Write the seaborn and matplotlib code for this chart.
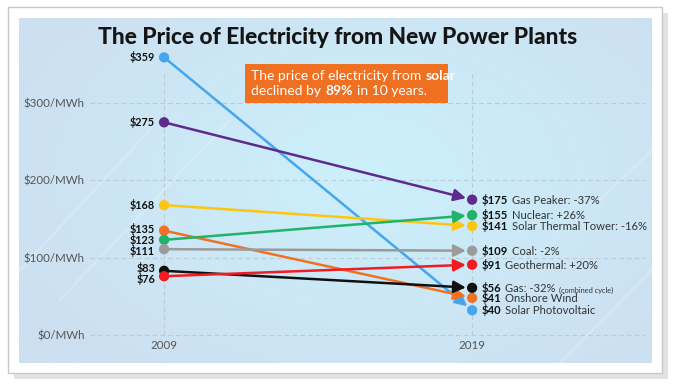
import matplotlib
matplotlib.use('Agg')
import matplotlib.pyplot as plt
import matplotlib.patches as mpatches
import numpy as np
import pandas as pd
import seaborn as sns

# data ($/MWh)
sources = ['Solar Photovoltaic', 'Gas Peaker', 'Solar Thermal Tower', 'Onshore Wind',
           'Nuclear', 'Coal', 'Gas', 'Geothermal']
price_2009 = [359, 275, 168, 135, 123, 111, 83, 76]
price_2019 = [40, 175, 141, 41, 155, 109, 56, 91]
right_names = ['Solar Photovoltaic', 'Gas Peaker: -37%', 'Solar Thermal Tower: -16%', 'Onshore Wind',
               'Nuclear: +26%', 'Coal: -2%', 'Gas: -32%', 'Geothermal: +20%']
right_notes = ['', '', '', '', '', '', '(combined cycle)', '']
years = [2009, 2019]
year_labels = ['2009', '2019']
yticks = [0, 100, 200, 300]
ytick_labels = ['$0/MWh', '$100/MWh', '$200/MWh', '$300/MWh']
title = 'The Price of Electricity from New Power Plants'

# styling
colors = ['#45a6ee', '#5e2a8e', '#fdc513', '#f07121', '#1fb469', '#9b9b9b', '#111111', '#f21b24']
end_nudge = [-8, 0, 0, 7, 0, 0, 5, 0]      # spread the crowded 2019 dots apart
start_label_nudge = [0, 0, 0, 2.5, 0, -2.5, 3.5, -3]

plt.rcParams['text.parse_math'] = False
plt.rcParams['font.family'] = ['Lato', 'DejaVu Sans']

W, H = 678, 387
fig = plt.figure(figsize=(W / 100, H / 100), dpi=100)

# background layer in pixel coordinates
bg = fig.add_axes([0, 0, 1, 1])
bg.set_xlim(0, W)
bg.set_ylim(H, 0)
bg.axis('off')
bg.add_patch(mpatches.Rectangle((14, 13), 654, 366, facecolor='#e2e2e2', edgecolor='none'))
bg.add_patch(mpatches.Rectangle((8, 7), 654, 366, facecolor='white', edgecolor='#c8c8c8', lw=1))

gx, gy = np.meshgrid(np.linspace(0, 1, 300), np.linspace(0, 1, 200))
r = np.clip(np.sqrt(((gx - 0.55) / 0.65) ** 2 + ((gy - 0.45) / 0.75) ** 2), 0, 1)
center = np.array([203, 240, 252]) / 255
edge = np.array([205, 223, 240]) / 255
grad = center[None, None, :] * (1 - r[..., None]) + edge[None, None, :] * r[..., None]
bg.imshow(grad, extent=(19, 652, 363, 18), aspect='auto', zorder=1)
for (x0, y0, x1, y1) in [(20, 270, 150, 130), (60, 300, 230, 120), (560, 363, 652, 270), (600, 200, 652, 150)]:
    bg.plot([x0, x1], [y0, y1], color='white', alpha=0.18, lw=2, zorder=2)

bg.text(338, 37, title, ha='center', va='center', fontsize=16.4, fontweight='black', color='#151515', zorder=3)

# callout box
bg.add_patch(mpatches.Rectangle((245, 64), 203, 39, facecolor='#f07021', edgecolor='none', zorder=3))


def chain(ax, first, pieces, gap=2.5):
    prev = first
    for txt, kw in pieces:
        prev = ax.annotate(txt, xy=(1, 0), xycoords=prev, xytext=(gap, 0), textcoords='offset points',
                           ha='left', va='bottom', **kw)
    return prev


box_kw = dict(color='white', fontsize=10, zorder=4)
t1 = bg.text(251, 76, 'The price of electricity from', ha='left', va='center', **box_kw)
chain(bg, t1, [('solar', dict(fontweight='bold', **box_kw))], gap=3)
t2 = bg.text(251, 91, 'declined by', ha='left', va='center', **box_kw)
chain(bg, t2, [('89%', dict(fontweight='bold', **box_kw)), ('in 10 years.', box_kw)], gap=3)

# main chart axes
ax = fig.add_axes([19 / W, (H - 363) / H, 633 / W, 345 / H])
ax.set_facecolor('none')
ax.set_xlim(2004.29, 2024.84)
ax.set_ylim(-36.2, 409.9)
for s in ax.spines.values():
    s.set_visible(False)

ax.hlines(yticks, 2006.6, 2024.6, colors='#bccad4', linestyles=(0, (4, 3)), lw=0.8, zorder=1)
ax.vlines(years, 0, 340, colors='#bccad4', linestyles=(0, (4, 3)), lw=0.8, zorder=1)

ax.set_yticks(yticks, labels=ytick_labels)
ax.set_xticks(years, labels=year_labels)
ax.tick_params(axis='y', length=0, pad=-47.5, labelsize=8.3, labelcolor='#555555')
ax.tick_params(axis='x', length=0, pad=-16.5, labelsize=8.3, labelcolor='#555555')

shown_2019 = [p + n for p, n in zip(price_2019, end_nudge)]
df = pd.DataFrame({
    'source': sources * 2,
    'year': [2009] * len(sources) + [2019] * len(sources),
    'price': price_2009 + shown_2019,
})

for i, src in enumerate(sources):
    ax.annotate('', xy=(2019, shown_2019[i]), xytext=(2009, price_2009[i]),
                arrowprops=dict(arrowstyle='-|>,head_length=0.8,head_width=0.4', color=colors[i],
                                lw=1.8, shrinkA=0, shrinkB=4.5, mutation_scale=9), zorder=3)

sns.scatterplot(data=df, x='year', y='price', hue='source', palette=dict(zip(sources, colors)),
                s=55, edgecolor='none', legend=False, ax=ax, zorder=5, clip_on=False)
ax.set_xlabel('')
ax.set_ylabel('')

for i, src in enumerate(sources):
    ax.annotate(f'${price_2009[i]}', xy=(2009, price_2009[i] + start_label_nudge[i]), xytext=(-6.5, 0),
                textcoords='offset points', ha='right', va='center', fontsize=7.8, fontweight='bold',
                color='#111111')
    lab = ax.annotate(f'${price_2019[i]}', xy=(2019, shown_2019[i]), xytext=(7, 0), textcoords='offset points',
                      ha='left', va='center', fontsize=8.1, fontweight='bold', color='#111111')
    pieces = [(right_names[i], dict(fontsize=8.1, color='#333333'))]
    if right_notes[i]:
        pieces.append((right_notes[i], dict(fontsize=5.3, color='#333333')))
    chain(ax, lab, pieces)

fig.savefig('out.png', dpi=100)
